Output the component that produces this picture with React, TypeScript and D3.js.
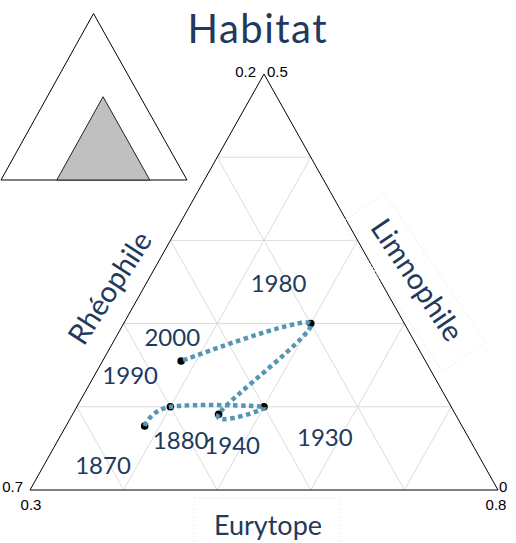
import React from "react";
import * as d3 from "d3";

// Data: composition (fractions) per year
const years = [1870, 1880, 1930, 1940, 1980, 2000];
const rheophile = [0.539, 0.5, 0.4, 0.453, 0.3, 0.461];
const limnophile = [0.077, 0.1, 0.1, 0.091, 0.2, 0.155];
const eurytope = [0.384, 0.4, 0.5, 0.456, 0.5, 0.384];

// Year annotations (anchor in ternary coords: limnophile, eurytope)
const labelTexts = ["1870", "1880", "1940", "1930", "1980", "1990", "2000"];
const labelL = [0.03, 0.06, 0.054, 0.064, 0.249, 0.138, 0.184];
const labelE = [0.363, 0.431, 0.489, 0.583, 0.441, 0.338, 0.36];

// Axis ranges (zoomed ternary)
const rRange = [0.2, 0.7];
const lRange = [0, 0.5];
const eRange = [0.3, 0.8];
const gridStep = 0.1;

const NAVY = "#1f3a5c";
const LINE = "#5596b4";

export default function App() {
  const W = 516, H = 543;
  const BL = { x: 30, y: 490 };
  const BR = { x: 498, y: 490 };
  const T = { x: 264, y: 74 };

  const yScale = d3.scaleLinear().domain(lRange).range([BL.y, T.y]);
  const eScale = d3.scaleLinear().domain(eRange).range([BL.x, BR.x]);
  const tFrac = d3.scaleLinear().domain(lRange).range([0, 1]);
  const pos = (l: number, e: number): [number, number] => [
    eScale(e) + tFrac(l) * (T.x - BL.x),
    yScale(l),
  ];

  // grid lines
  const grid: [number, number][][] = [];
  const ticks = d3.range(1, 5).map((i) => i * gridStep);
  ticks.forEach((t) => {
    const l = lRange[0] + t;
    grid.push([pos(l, eRange[0]), pos(l, eRange[0] + (0.5 - t))]);
    const e = eRange[0] + t;
    grid.push([pos(0, e), pos(0.5 - t, e)]);
    const r = rRange[0] + t;
    const s = 1 - r;
    grid.push([pos(0, s), pos(s - eRange[0], eRange[0])]);
  });

  const pts = years.map((_, i) => pos(limnophile[i], eurytope[i]));
  const lineGen = d3.line().curve(d3.curveCatmullRom.alpha(0));
  const path = lineGen(pts) || "";

  // inset triangle
  const iBL = { x: 1, y: 180 };
  const iBR = { x: 187, y: 180 };
  const iT = { x: 93.5, y: 13.5 };
  const ix = d3.scaleLinear().domain([0, 1]).range([iBL.x, iBR.x]);
  const iy = d3.scaleLinear().domain([0, 1]).range([iBL.y, iT.y]);
  const ipos = (l: number, e: number): [number, number] => [
    ix(e) + l * (iT.x - iBL.x),
    iy(l),
  ];
  const gray = [
    ipos(lRange[1], eRange[0]),
    ipos(0, eRange[0]),
    ipos(0, eRange[1]),
  ];

  const font = "Lato, 'Open Sans', sans-serif";
  const tickFont = "'Liberation Sans', Arial, sans-serif";

  return (
    <svg
      width={W}
      height={H}
      style={{ position: "absolute", left: 0, top: 0, background: "#fff" }}
    >
      {/* inset */}
      <polygon
        points={[iBL, iBR, iT].map((p) => `${p.x},${p.y}`).join(" ")}
        fill="#fff"
        stroke="#000"
        strokeWidth={1}
      />
      <polygon
        points={gray.map((p) => p.join(",")).join(" ")}
        fill="#c0c0c0"
        stroke="#222"
        strokeWidth={1}
      />

      {/* title */}
      <text
        x={257}
        y={43}
        textAnchor="middle"
        fontFamily={font}
        fontSize={40}
        fill={NAVY}
        textLength={139}
        lengthAdjust="spacing"
      >
        Habitat
      </text>

      {/* grid */}
      {grid.map((g, i) => (
        <line
          key={i}
          x1={g[0][0]}
          y1={g[0][1]}
          x2={g[1][0]}
          y2={g[1][1]}
          stroke="#dcdcdc"
          strokeWidth={1}
        />
      ))}
      {/* main triangle */}
      <polygon
        points={[BL, BR, T].map((p) => `${p.x},${p.y}`).join(" ")}
        fill="none"
        stroke="#000"
        strokeWidth={1}
      />

      {/* corner tick labels */}
      <g fontFamily={tickFont} fontSize={15} fill="#000">
        <text x={T.x - 8} y={T.y + 3} textAnchor="end">{rRange[0].toFixed(1)}</text>
        <text x={T.x + 3} y={T.y + 3} textAnchor="start">{lRange[1].toFixed(1)}</text>
        <text x={BL.x - 7} y={BL.y + 2} textAnchor="end">{rRange[1].toFixed(1)}</text>
        <text x={BL.x + 1} y={BL.y + 20} textAnchor="middle">{eRange[0].toFixed(1)}</text>
        <text x={BR.x + 1} y={BR.y + 2} textAnchor="start">{String(lRange[0])}</text>
        <text x={BR.x - 2} y={BR.y + 20} textAnchor="middle">{eRange[1].toFixed(1)}</text>
      </g>

      {/* points */}
      {pts.map((p, i) => (
        <circle key={years[i]} cx={p[0]} cy={p[1]} r={3.8} fill="#000" />
      ))}
      <path
        d={path}
        fill="none"
        stroke={LINE}
        strokeWidth={4.5}
        strokeDasharray="4.5,3.5"
      />

      {/* year labels */}
      {labelTexts.map((t, i) => {
        const [x, y] = pos(labelL[i], labelE[i]);
        return (
          <text
            key={t}
            x={x}
            y={y + 9}
            textAnchor="middle"
            fontFamily={font}
            fontSize={24}
            fill={NAVY}
          >
            {t}
          </text>
        );
      })}

      {/* axis titles */}
      <rect x={194} y={498} width={146} height={46} fill="none" stroke="#eeeeee" strokeWidth={1} strokeDasharray="2,2" />
      <text x={268} y={535} textAnchor="middle" fontFamily={font} fontSize={27} fill={NAVY}>
        Eurytope
      </text>
      <g transform="translate(110,288) rotate(-57)">
        <text x={0} y={10} textAnchor="middle" fontFamily={font} fontSize={29} fill={NAVY}>
          Rhéophile
        </text>
      </g>
      <g transform="translate(417,280) rotate(56)">
        <rect x={-90} y={-22} width={180} height={52} fill="none" stroke="#eeeeee" strokeWidth={1} strokeDasharray="2,2" />
        <text x={0} y={10} textAnchor="middle" fontFamily={font} fontSize={29} fill={NAVY}>
          Limnophile
        </text>
      </g>
    </svg>
  );
}
